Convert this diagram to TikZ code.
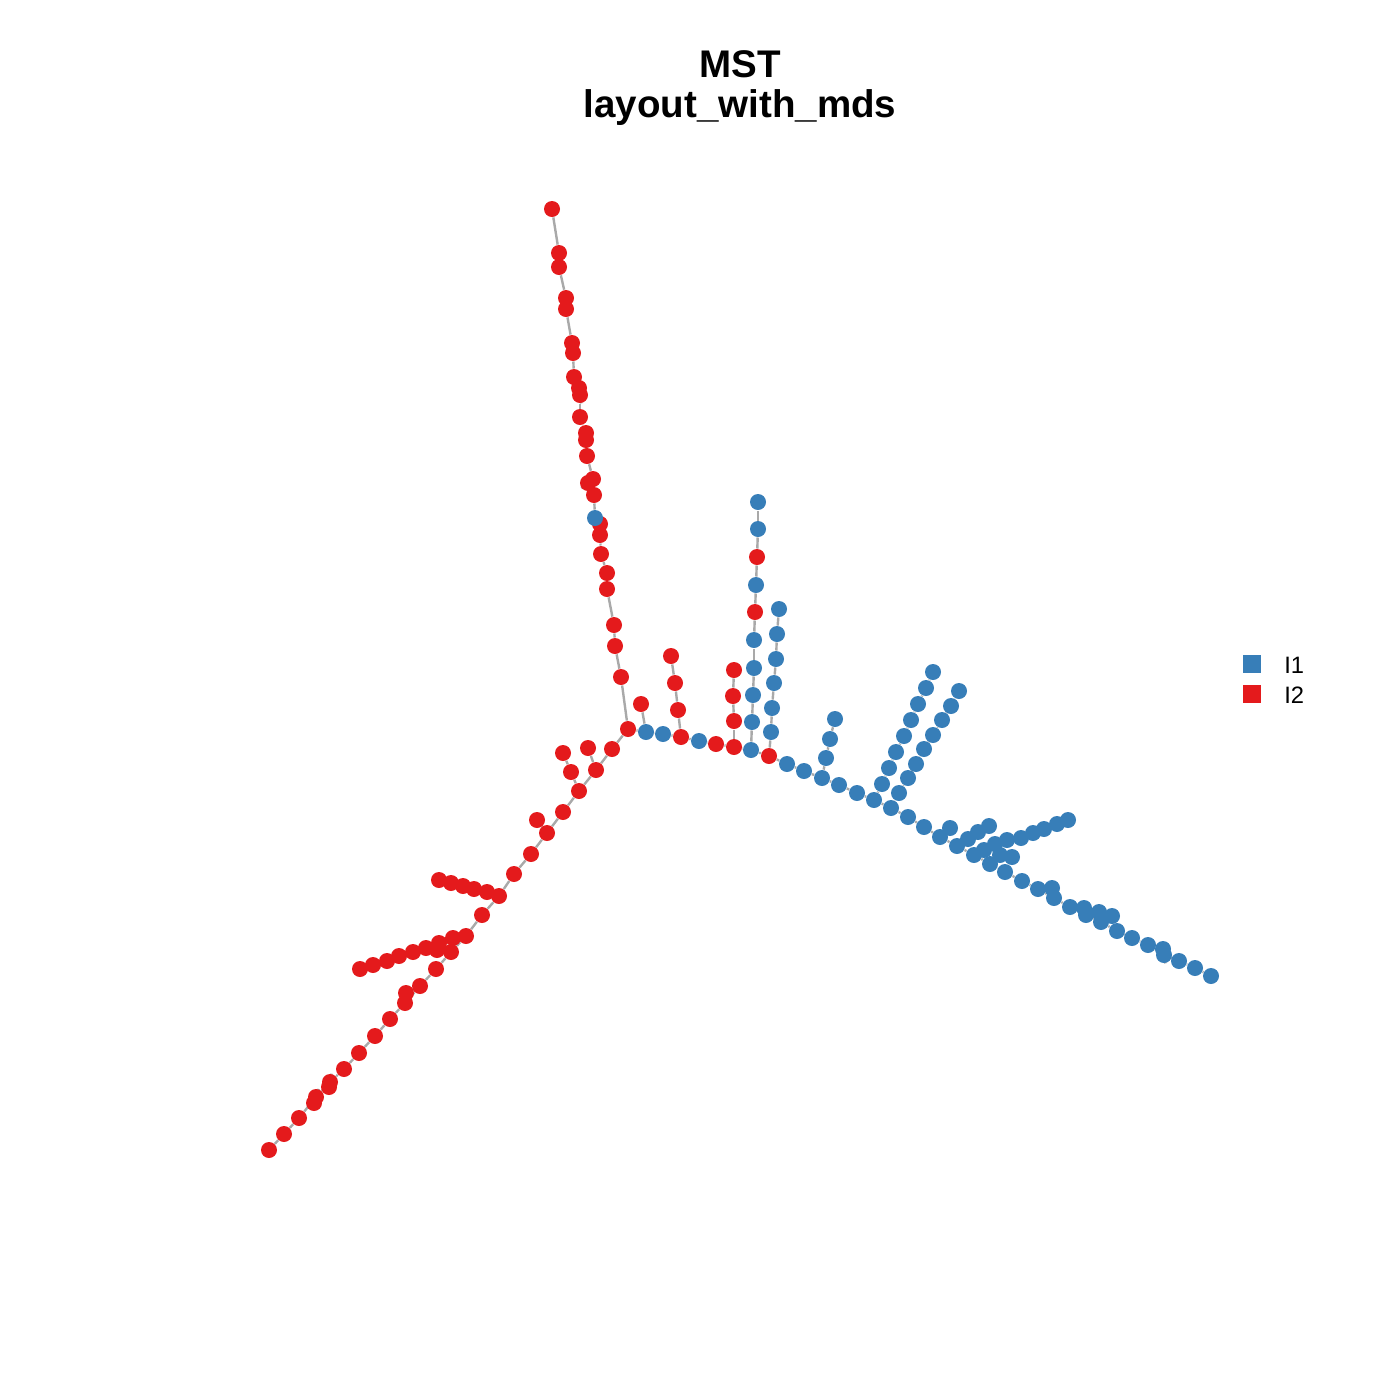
\documentclass[tikz,border=0pt]{standalone}
\usepackage{fontspec}
\setmainfont{Liberation Sans}
\usetikzlibrary{backgrounds}

\definecolor{mstblue}{RGB}{55,126,184}
\definecolor{mstred}{RGB}{228,26,28}
\definecolor{mstgray}{RGB}{169,169,169}

\tikzset{every picture/.style={line width=0.75pt},
  bdot/.style={circle,fill=mstblue,inner sep=0pt,minimum size=12pt},
  rdot/.style={circle,fill=mstred,inner sep=0pt,minimum size=12pt},
  mstedge/.style={draw=mstgray,line width=1.8pt},
  keybox/.style={inner sep=0pt,minimum size=14pt}}

\begin{document}
\begin{tikzpicture}[x=0.75pt,y=0.75pt,yscale=-1,xscale=1]
	\useasboundingbox (0,0) rectangle (1400,1400);

	% Red vertices
	\foreach \n/\x/\y in {r0/628/729,
		t1/621/677, t2/615/646, t3/614/625, t4/607/589, t5/607/573, t6/601/554, t7/600/535, t8/600/524,
		t9/594/495, t10/588/483, t11/593/479, t12/587/456, t13/586/440, t14/586/433, t15/580/417,
		t16/580/395, t17/579/388, t18/574/377, t19/573/353, t20/572/343, t21/566/309, t22/566/298,
		t23/559/267, t24/559/253, t25/552/209,
		a1/641/704, m3/681/737, c1/678/710, c2/675/683, c3/671/656, m5/716/744, m6/734/747,
		d1/734/721, d2/733/696, d3/734/670, e5/755/612, e7/757/557, m8/769/756,
		l1/612/749, l2/596/770, l3/579/791, l4/563/812, l5/547/833, l6/531/854, l7/514/874, l8/499/896,
		l9/482/915, l10/466/936, l11/451/952, l12/436/969, l13/420/986, l14/405/1003, l15/390/1019,
		l16/375/1036, l17/359/1053, l18/344/1069, l19/330/1082, l20/316/1097, l21/299/1118,
		l22/284/1134, l23/269/1150,
		v1/588/748, v2/571/772, v3/563/753, v4/537/820,
		w1/487/892, w2/474/889, w3/463/886, w4/451/883, w5/439/880,
		x0/453/938, x1/439/943, x2/426/948, x3/413/952, x4/399/956, x5/387/961, x6/373/965, x7/360/969,
		x8/437/950, y1/406/993, y2/329/1087, y3/314/1103}
		\node[rdot] (\n) at (\x,\y) {};

	% Blue vertices
	\foreach \n/\x/\y in {tb/595/518,
		m1/646/732, m2/663/734, m4/699/741, m7/751/750, m9/787/764, m10/804/771, m11/822/778,
		m12/839/785, m13/857/793, m14/874/800, m15/891/808, m16/908/817, m17/924/827, m18/940/837,
		m19/957/846, m20/974/855, m21/990/864, m22/1005/872, m23/1022/881, m24/1038/889,
		m25/1054/898, m26/1070/907, m27/1086/915, m28/1101/922, m29/1117/931, m30/1132/938,
		m31/1148/945, m32/1164/955, m33/1179/961, m34/1195/968, m35/1211/976,
		e1/752/722, e2/753/695, e3/754/668, e4/754/640, e6/756/585, e8/758/529, e9/758/502,
		f1/771/732, f2/772/708, f3/774/683, f4/776/659, f5/777/634, f6/779/609,
		g1/826/758, g2/830/739, g3/835/719,
		h1/882/784, h2/889/768, h3/896/752, h4/904/736, h5/911/720, h6/918/704, h7/926/688, h8/933/672,
		k1/899/793, k2/908/778, k3/916/764, k4/924/749, k5/933/735, k6/942/720, k7/951/706, k8/959/691,
		n1/950/828, p1/968/839, p2/978/832, p3/989/826,
		q1/984/850, q2/995/844, q3/1007/840, q4/1021/838, q5/1033/833, q6/1044/829, q7/1057/824, q8/1068/820,
		s1/1000/855, s2/1012/857, u1/1052/888, u2/1084/908, u3/1099/912, u4/1112/916, u5/1163/949}
		\node[bdot] (\n) at (\x,\y) {};

	% Tree edges
	\begin{pgfonlayer}{background}
	\foreach \b [remember=\b as \a (initially r0)] in {t1,t2,t3,t4,t5,t6,t7,t8,tb,t9,t10,t11,t12,t13,
		t14,t15,t16,t17,t18,t19,t20,t21,t22,t23,t24,t25}
		\draw[mstedge] (\a) -- (\b);
	\foreach \b [remember=\b as \a (initially r0)] in {m1,m2,m3,m4,m5,m6,m7,m8,m9,m10,m11,m12,m13,m14,
		m15,m16,m17,m18,m19,m20,m21,m22,m23,m24,m25,m26,m27,m28,m29,m30,m31,m32,m33,m34,m35}
		\draw[mstedge] (\a) -- (\b);
	\foreach \b [remember=\b as \a (initially r0)] in {l1,l2,l3,l4,l5,l6,l7,l8,l9,l10,l11,l12,l13,l14,
		l15,l16,l17,l18,l19,l20,l21,l22,l23}
		\draw[mstedge] (\a) -- (\b);
	\foreach \b [remember=\b as \a (initially m7)] in {e1,e2,e3,e4,e5,e6,e7,e8,e9}
		\draw[mstedge] (\a) -- (\b);
	\foreach \b [remember=\b as \a (initially m8)] in {f1,f2,f3,f4,f5,f6}
		\draw[mstedge] (\a) -- (\b);
	\foreach \b [remember=\b as \a (initially m14)] in {h1,h2,h3,h4,h5,h6,h7,h8}
		\draw[mstedge] (\a) -- (\b);
	\foreach \b [remember=\b as \a (initially m15)] in {k1,k2,k3,k4,k5,k6,k7,k8}
		\draw[mstedge] (\a) -- (\b);
	\foreach \b [remember=\b as \a (initially m20)] in {q1,q2,q3,q4,q5,q6,q7,q8}
		\draw[mstedge] (\a) -- (\b);
	\foreach \b [remember=\b as \a (initially l8)] in {w1,w2,w3,w4,w5}
		\draw[mstedge] (\a) -- (\b);
	\foreach \b [remember=\b as \a (initially l10)] in {x0,x1,x2,x3,x4,x5,x6,x7}
		\draw[mstedge] (\a) -- (\b);
	\foreach \a/\b in {m1/a1, m3/c1, c1/c2, c2/c3, m6/d1, d1/d2, d2/d3, m11/g1, g1/g2, g2/g3,
		m18/n1, m19/p1, p1/p2, p2/p3, m21/s1, s1/s2, m24/u1, m26/u2, u2/u3, u3/u4, m32/u5,
		l2/v1, l3/v2, v2/v3, l5/v4, l11/x8, l13/y1, l19/y2, l20/y3}
		\draw[mstedge] (\a) -- (\b);
	\end{pgfonlayer}

	% Title
	\node[anchor=base,font=\fontsize{28.9}{30}\selectfont\bfseries] (title1) at (740,77) {MST};
	\node[anchor=base,font=\fontsize{28.9}{30}\selectfont\bfseries] (title2) at (740,117) {layout\_with\_mds};

	% Legend
	\node[keybox,fill=mstblue] (key1) at (1252,664) {};
	\node[keybox,fill=mstred] (key2) at (1252,694) {};
	\node[anchor=base west,inner sep=0pt,font=\fontsize{17.8}{20}\selectfont] (lab1) at (1284,673) {I1};
	\node[anchor=base west,inner sep=0pt,font=\fontsize{17.8}{20}\selectfont] (lab2) at (1284,703) {I2};

\end{tikzpicture}
\end{document}
